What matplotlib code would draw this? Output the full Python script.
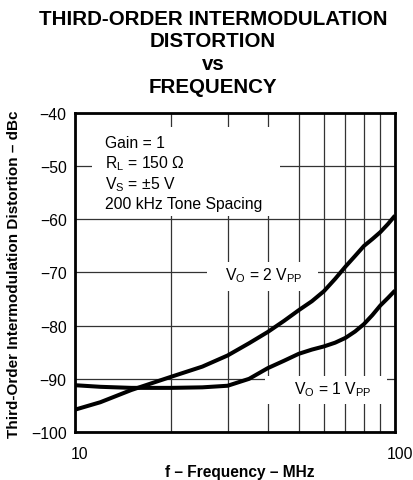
import numpy as np
import matplotlib
matplotlib.use("Agg")
import matplotlib.pyplot as plt
from matplotlib.patches import Rectangle
from matplotlib.transforms import ScaledTranslation

plt.rcParams['font.family'] = ['Liberation Sans', 'DejaVu Sans']
plt.rcParams['mathtext.default'] = 'regular'

# V_O = 2 Vpp curve (MHz, dBc)
f_2vpp = [10, 12, 15, 20, 25, 30, 35, 40, 45, 50, 55, 60, 65, 70, 75, 80, 85, 90, 95, 100]
imd_2vpp = [-95.8, -94.4, -92.1, -89.6, -87.7, -85.6, -83.3, -81.2, -79.1, -77.1, -75.4,
            -73.5, -71.2, -68.9, -66.9, -65.0, -63.7, -62.4, -60.9, -59.3]

# V_O = 1 Vpp curve
f_1vpp = [10, 12, 15, 20, 25, 30, 35, 40, 45, 50, 55, 60, 65, 70, 75, 80, 85, 90, 95, 100]
imd_1vpp = [-91.2, -91.5, -91.7, -91.7, -91.6, -91.3, -90.0, -88.0, -86.6, -85.3, -84.5,
            -83.9, -83.2, -82.3, -81.1, -79.7, -78.0, -76.2, -74.8, -73.4]

x_major = [10, 100]
x_minor = [20, 30, 40, 50, 60, 70, 80, 90]
y_ticks = [-100, -90, -80, -70, -60, -50, -40]

title_lines = ["THIRD-ORDER INTERMODULATION", "DISTORTION", "vs", "FREQUENCY"]
cond_lines = ["Gain = 1", "R$_L$ = 150 Ω", "V$_S$ = ±5 V", "200 kHz Tone Spacing"]

fig = plt.figure(figsize=(4.13, 4.81), dpi=100)
ax = fig.add_axes([75/413, 1-433/481, 320/413, 319/481])

ax.set_xscale('log')
ax.set_xlim(10, 100)
ax.set_ylim(-100, -40)
ax.set_xticks(x_major)
ax.set_xticklabels(['10', '100'])
ax.set_xticks(x_minor, minor=True)
ax.set_xticklabels([], minor=True)
ax.set_yticks(y_ticks)
ax.tick_params(which='both', length=0, labelsize=11.3)
ax.tick_params(axis='x', pad=10)
ax.tick_params(axis='y', pad=6)
for lab in ax.get_xticklabels():
    lab.set_transform(lab.get_transform() + ScaledTranslation(5/100, 0, fig.dpi_scale_trans))

ax.grid(True, which='both', color='#333333', lw=0.9, zorder=1)
ax.set_axisbelow(True)
for s in ax.spines.values():
    s.set_linewidth(2)

# white masks behind the labels (grid is interrupted there)
for (x0, y0, w, h) in [(0.053, 0.677, 0.588, 0.279),
                       (0.4125, 0.442, 0.3465, 0.091),
                       (0.594, 0.088, 0.381, 0.0875)]:
    ax.add_patch(Rectangle((x0, y0), w, h, transform=ax.transAxes,
                           facecolor='white', edgecolor='none', zorder=2))

ax.plot(f_2vpp, imd_2vpp, color='black', lw=2.9, zorder=3, solid_capstyle='butt')
ax.plot(f_1vpp, imd_1vpp, color='black', lw=2.9, zorder=3, solid_capstyle='butt')

for i, t in enumerate(cond_lines):
    ax.text(0.094, 0.892 - i*0.0635, t, transform=ax.transAxes, fontsize=11.3,
            va='baseline', ha='left', zorder=4)

ax.text(0.591, 0.4796, "V$_O$ = 2 V$_{PP}$", transform=ax.transAxes, fontsize=11.3,
        va='baseline', ha='center', zorder=4)
ax.text(0.805, 0.121, "V$_O$ = 1 V$_{PP}$", transform=ax.transAxes, fontsize=11.3,
        va='baseline', ha='center', zorder=4)

for t, yb in zip(title_lines, [0.948, 0.902, 0.854, 0.807]):
    fig.text(213/413, yb, t, fontsize=14.75, fontweight='bold', ha='center', va='baseline')

fig.text(14/413, 1-274.5/481, "Third-Order Intermodulation Distortion – dBc",
         rotation=90, fontsize=11, fontweight='bold', ha='center', va='center')
fig.text(240/413, 1-476.7/481, "f – Frequency – MHz", fontsize=11.2,
         fontweight='bold', ha='center', va='baseline')

fig.savefig("out.png", dpi=100)
